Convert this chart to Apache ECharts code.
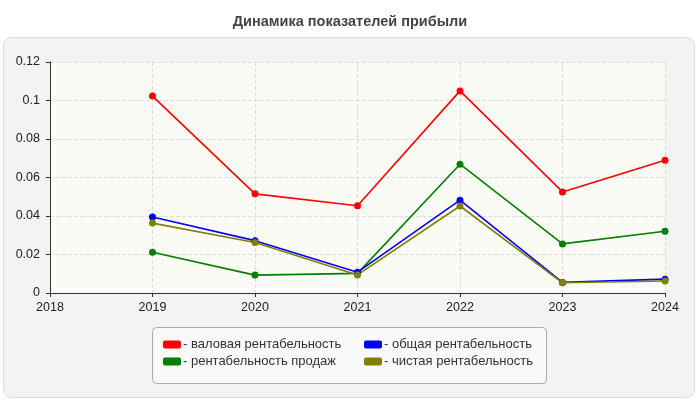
<!DOCTYPE html>
<html><head><meta charset="utf-8">
<script src="https://cdn.jsdelivr.net/npm/echarts@6/dist/echarts.min.js"></script>
<style>html,body{margin:0;padding:0;background:#fff}#c{width:700px;height:400px}</style>
</head><body><div id="c"></div>
<script>
var years = [2019, 2020, 2021, 2022, 2023, 2024];
var grossMargin = [0.1023, 0.0515, 0.0453, 0.1050, 0.0525, 0.0690];
var totalMargin = [0.0395, 0.0272, 0.0108, 0.0482, 0.0055, 0.0072];
var salesMargin = [0.0212, 0.0093, 0.0102, 0.0669, 0.0255, 0.0321];
var netMargin   = [0.0363, 0.0262, 0.0094, 0.0452, 0.0053, 0.0062];
var names = ['валовая рентабельность', 'общая рентабельность', 'рентабельность продаж', 'чистая рентабельность'];
var colors = ['#ff0000', '#0000ff', '#008000', '#808000'];

function pairs(vals){ return years.map(function(y,i){ return [y, vals[i]]; }); }
function mk(name, vals, color){
  return {name:name, type:'line', data:pairs(vals), symbol:'circle', symbolSize:7,
    lineStyle:{color:color, width:1.6}, itemStyle:{color:color}, emphasis:{disabled:true}, animation:false};
}
var chart = echarts.init(document.getElementById('c'));
var font = 'Liberation Sans, Arial, sans-serif';
chart.setOption({
  animation:false,
  backgroundColor:'#ffffff',
  textStyle:{fontFamily:font},
  title:{text:'Динамика показателей прибыли', left:'center', top:9,
    textStyle:{fontSize:14.5, fontWeight:'bold', color:'#444', fontFamily:font}},
  graphic:[
    {type:'rect', z:-10, shape:{x:3.5, y:37.5, width:691, height:360, r:8},
      style:{fill:'#f3f3f3', stroke:'#dcdcdc', lineWidth:1}},
    {type:'rect', z:-5, shape:{x:152.5, y:327.5, width:394, height:56, r:4},
      style:{fill:'#f9f9f9', stroke:'#aaaaaa', lineWidth:1}}
  ],
  grid:{left:50, right:35, top:62, bottom:107, show:true, backgroundColor:'#fbfbf6', borderWidth:0},
  xAxis:{type:'value', min:2018, max:2024, interval:1,
    axisLine:{show:true, lineStyle:{color:'#333', width:1}},
    axisTick:{show:true, length:4, lineStyle:{color:'#333'}},
    axisLabel:{color:'#222', fontSize:12.5, margin:8, fontFamily:font,
      formatter:function(v){ return String(Math.round(v)); }},
    splitLine:{show:true, lineStyle:{color:'#dddddd', type:'dashed'}}},
  yAxis:{type:'value', min:0, max:0.12, interval:0.02,
    axisLine:{show:true, lineStyle:{color:'#333', width:1}},
    axisTick:{show:true, length:4, lineStyle:{color:'#333'}},
    axisLabel:{color:'#222', fontSize:12.5, margin:10, fontFamily:font,
      formatter:function(v){ return String(+v.toFixed(2)); }},
    splitLine:{show:true, lineStyle:{color:'#dddddd', type:'dashed'}}},
  legend:[
    {data:[names[0], names[2]], orient:'vertical', left:158, top:333, itemWidth:18, itemHeight:8,
      itemGap:4, icon:'roundRect', formatter:'- {name}', textStyle:{fontSize:13, color:'#333', padding:[0,0,0,-3]}},
    {data:[names[1], names[3]], orient:'vertical', left:359, top:333, itemWidth:18, itemHeight:8,
      itemGap:4, icon:'roundRect', formatter:'- {name}', textStyle:{fontSize:13, color:'#333', padding:[0,0,0,-3]}}
  ],
  series:[
    mk(names[0], grossMargin, colors[0]),
    mk(names[2], salesMargin, colors[2]),
    mk(names[1], totalMargin, colors[1]),
    mk(names[3], netMargin, colors[3])
  ]
});
</script></body></html>
